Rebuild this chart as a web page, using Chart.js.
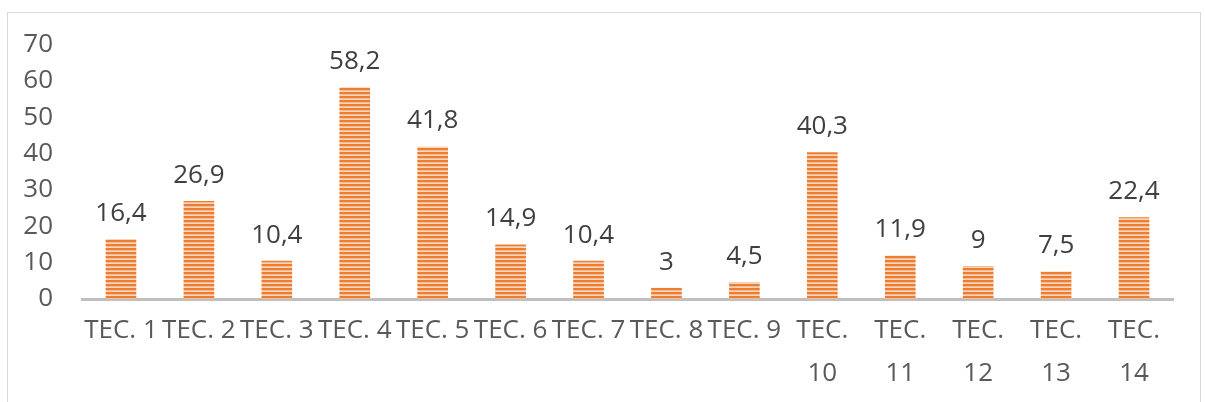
<!DOCTYPE html>
<html lang="en">
<head>
    <meta charset="UTF-8">
    <script src="https://cdn.jsdelivr.net/npm/chart.js"></script>
    <title>TEC</title>
    <style>
      body { margin: 0; background: #fff; overflow: hidden; }
      #frame { position: absolute; left: 7px; top: 12px; width: 1192px; height: 420px; border: 1px solid #D9D9D9; }
      #wrap { position: absolute; left: 0; top: 0; width: 1205px; height: 402px; }
    </style>
</head>
<body>
    <div id="frame"></div>
    <div id="wrap"><canvas id="chart" width="1205" height="402"></canvas></div>

    <script>
      const categories = ['TEC. 1', 'TEC. 2', 'TEC. 3', 'TEC. 4', 'TEC. 5', 'TEC. 6', 'TEC. 7',
        'TEC. 8', 'TEC. 9', ['TEC.', '10'], ['TEC.', '11'], ['TEC.', '12'], ['TEC.', '13'], ['TEC.', '14']];
      const values = [16.4, 26.9, 10.4, 58.2, 41.8, 14.9, 10.4, 3, 4.5, 40.3, 11.9, 9, 7.5, 22.4];
      const yTicks = [0, 10, 20, 30, 40, 50, 60, 70];

      // horizontal striped fill like the Excel pattern
      function stripes() {
        const c = document.createElement('canvas');
        c.width = 4; c.height = 4;
        const g = c.getContext('2d');
        g.fillStyle = '#ED7D31';
        g.fillRect(0, 0, 4, 4);
        g.fillStyle = '#F6BC94';
        g.fillRect(0, 2, 4, 1);
        g.fillStyle = '#F9D5BC';
        g.fillRect(0, 3, 4, 1);
        return g.createPattern(c, 'repeat');
      }

      const valueLabels = {
        id: 'valueLabels',
        afterDatasetsDraw(chart) {
          const ctx = chart.ctx;
          const meta = chart.getDatasetMeta(0);
          ctx.save();
          ctx.font = '26px "Open Sans"';
          ctx.fillStyle = '#404040';
          ctx.textAlign = 'center';
          ctx.textBaseline = 'middle';
          meta.data.forEach((bar, i) => {
            ctx.fillText(String(values[i]).replace('.', ','), bar.x, bar.y - 26);
          });
          ctx.restore();
        }
      };

      const ctx = document.getElementById('chart').getContext('2d');
      new Chart(ctx, {
        type: 'bar',
        data: {
          labels: categories,
          datasets: [{
            data: values,
            backgroundColor: stripes(),
            borderWidth: 0,
            barThickness: 30
          }]
        },
        plugins: [valueLabels],
        options: {
          responsive: false,
          animation: false,
          devicePixelRatio: 1,
          layout: { padding: { left: 0, right: 32, top: 44, bottom: 0 } },
          plugins: { legend: { display: false }, tooltip: { enabled: false } },
          scales: {
            x: {
              grid: { display: false, drawTicks: false },
              border: { display: true, color: '#BFBFBF', width: 3 },
              ticks: {
                color: '#595959',
                font: { family: 'Open Sans', size: 26, lineHeight: 1.65 },
                padding: 10,
                maxRotation: 0,
                autoSkip: false
              },
              afterFit(scale) { scale.height = 103; }
            },
            y: {
              min: 0,
              max: 70,
              afterBuildTicks(scale) { scale.ticks = yTicks.map(v => ({ value: v })); },
              grid: { display: false, drawTicks: false },
              border: { display: false },
              ticks: {
                color: '#595959',
                font: { family: 'Open Sans', size: 26 },
                padding: 29
              },
              afterFit(scale) { scale.width = 82; }
            }
          }
        }
      });
    </script>
</body>
</html>
